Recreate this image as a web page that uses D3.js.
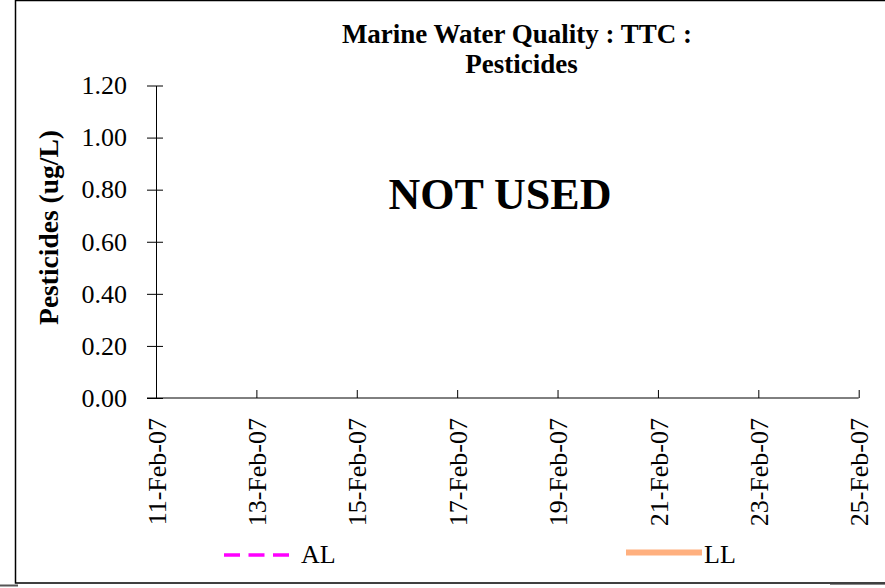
<!DOCTYPE html>
<html><head><meta charset="utf-8">
<script src="https://cdn.jsdelivr.net/npm/d3@7"></script>
<style>body{margin:0;background:#fff}svg{display:block}text{font-family:"Liberation Serif","Times New Roman",serif}</style>
</head><body>
<script>
const titleLines = ["Marine Water Quality : TTC :", "Pesticides"];
const yLabel = "Pesticides (ug/L)";
const overlayText = "NOT USED";
const yTicks = [0, 0.2, 0.4, 0.6, 0.8, 1.0, 1.2];
const xTickDates = ["2007-02-11","2007-02-13","2007-02-15","2007-02-17","2007-02-19","2007-02-21","2007-02-23","2007-02-25"];
const seriesNames = ["AL", "LL"];
const seriesAL = [];
const seriesLL = [];

const W = 885, H = 588;
const svg = d3.select("body").append("svg").attr("width", W).attr("height", H);
// frame
svg.append("line").attr("x1", 0).attr("x2", 18).attr("y1", 585.5).attr("y2", 585.5).attr("stroke", "#555").attr("stroke-width", 2);
svg.append("line").attr("x1", 830).attr("x2", 885).attr("y1", 584.5).attr("y2", 584.5).attr("stroke", "#888").attr("stroke-width", 1);
svg.append("rect").attr("x", 15.5).attr("y", 0.5).attr("width", 900).attr("height", 582.5).attr("fill", "none").attr("stroke", "#000").attr("stroke-width", 1.5);

const parse = d3.timeParse("%Y-%m-%d");
const fmt = d3.timeFormat("%-d-%b-%y");
const x = d3.scaleTime().domain([parse(xTickDates[0]), parse(xTickDates[xTickDates.length-1])]).range([156, 858.7]);
const y = d3.scaleLinear().domain([0, 1.2]).range([398, 85.5]);

// y axis
const ya = svg.append("g").attr("transform", "translate(156,0)")
  .call(d3.axisLeft(y).tickValues(yTicks).tickFormat(d3.format(".2f")).tickSizeInner(9).tickSizeOuter(0));
ya.select(".domain").attr("stroke", "#000");
ya.selectAll(".tick line").attr("x2", -9).attr("x1", 7).attr("stroke", "#000");
ya.selectAll(".tick text").attr("font-size", 26).attr("fill", "#000").attr("font-family", "Liberation Serif").attr("x", -29);

// x axis
const xa = svg.append("g").attr("transform", "translate(0,398)")
  .call(d3.axisBottom(x).tickValues(xTickDates.map(parse)).tickFormat(fmt).tickSizeInner(-8).tickSizeOuter(0).tickPadding(0));
xa.select(".domain").attr("stroke", "#000").attr("d", `M${x.range()[0]-9},0H${x.range()[1]}`);
xa.selectAll(".tick line").attr("stroke", "#000");
xa.selectAll(".tick text").attr("font-size", 26).attr("fill", "#000").attr("font-family", "Liberation Serif")
  .attr("transform", "rotate(-90)").attr("text-anchor", "end").attr("x", -20).attr("y", 0).attr("dy", "0.35em");

// series lines (empty data)
const line = d3.line().x(d => x(parse(d.date))).y(d => y(d.value));
svg.append("path").datum(seriesAL).attr("d", line).attr("fill", "none").attr("stroke", "#FF00FF").attr("stroke-width", 3).attr("stroke-dasharray", "16,8.5");
svg.append("path").datum(seriesLL).attr("d", line).attr("fill", "none").attr("stroke", "#FFB07F").attr("stroke-width", 6);

// title
svg.append("text").attr("x", 517).attr("y", 43).attr("text-anchor", "middle").attr("font-weight", "bold").attr("font-size", 27).text(titleLines[0]);
svg.append("text").attr("x", 521.5).attr("y", 73).attr("text-anchor", "middle").attr("font-weight", "bold").attr("font-size", 27).text(titleLines[1]);

// NOT USED
svg.append("text").attr("x", 500).attr("y", 209).attr("text-anchor", "middle").attr("font-weight", "bold").attr("font-size", 44).text(overlayText);

// y label
svg.append("text").attr("transform", "translate(58,227.5) rotate(-90)").attr("text-anchor", "middle").attr("font-weight", "bold").attr("font-size", 27.5).text(yLabel);

// legend
svg.append("line").attr("x1", 224).attr("x2", 290).attr("y1", 555).attr("y2", 555).attr("stroke", "#FF00FF").attr("stroke-width", 3.5).attr("stroke-dasharray", "16,8.5");
svg.append("text").attr("x", 301).attr("y", 563).attr("font-size", 26).text(seriesNames[0]);
svg.append("line").attr("x1", 626).attr("x2", 702).attr("y1", 552.5).attr("y2", 552.5).attr("stroke", "#FFB07F").attr("stroke-width", 6);
svg.append("text").attr("x", 704).attr("y", 563).attr("font-size", 26).text(seriesNames[1]);
</script>
</body></html>
